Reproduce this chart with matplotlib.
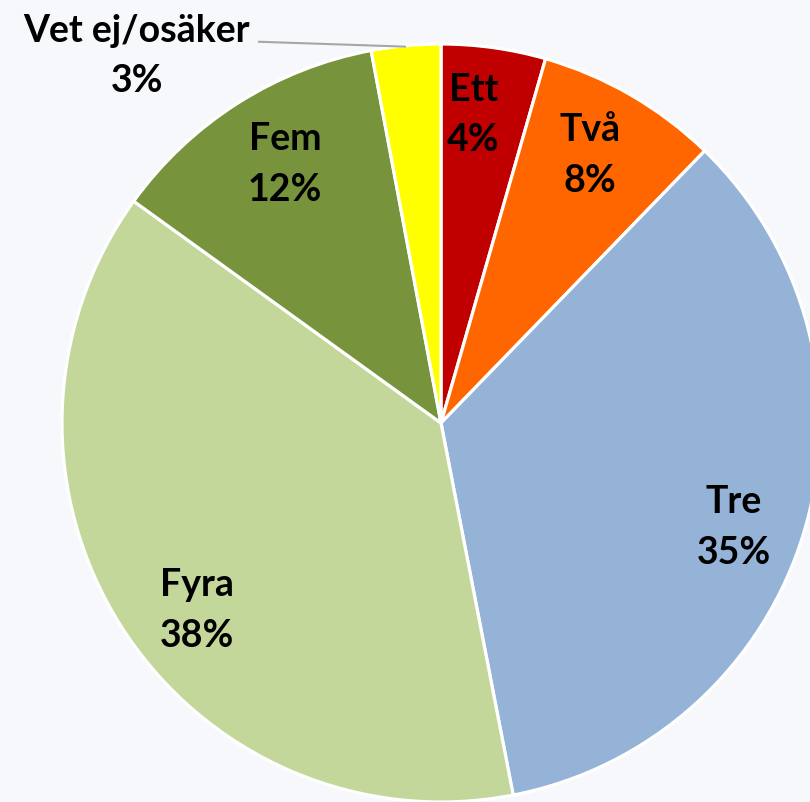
import numpy as np
import matplotlib.pyplot as plt

# data (percent, clockwise from 12 o'clock)
labels = ["Ett", "Två", "Tre", "Fyra", "Fem", "Vet ej/osäker"]
values = [4.45, 7.8, 34.7, 38.0, 12.1, 2.95]
shown = ["4%", "8%", "35%", "38%", "12%", "3%"]
colors = ["#C00000", "#FF6600", "#95B3D7", "#C4D79B", "#77933C", "#FFFF00"]

# label placement: angle clockwise from top (deg), distance from centre (radii)
lab_ang = [6, 29, 109.5, 232.5, 329, 320.4]
lab_dist = [0.82, 0.81, 0.82, 0.81, 0.80, 1.26]

bg = "#F7F8FC"
W, H = 810, 803
cx, cy, R = 441, 424, 379  # pie centre and radius in pixels

fig = plt.figure(figsize=(W / 100, H / 100), dpi=100, facecolor=bg)
ax = fig.add_axes([0, 0, 1, 1])
ax.set_facecolor(bg)

wedges, _ = ax.pie(values, colors=colors, startangle=90, counterclock=False,
                   radius=1, wedgeprops=dict(edgecolor="white", linewidth=2.3))

ax.set_xlim(-cx / R, (W - cx) / R)
ax.set_ylim(-(H - cy) / R, cy / R)
ax.set_aspect("equal")
ax.axis("off")

font = dict(family="Lato", fontweight="bold", fontsize=27, color="black",
            ha="center", va="center", linespacing=1.6)

for i, w in enumerate(wedges):
    a = np.deg2rad(90 - lab_ang[i])
    lx, ly = lab_dist[i] * np.cos(a), lab_dist[i] * np.sin(a)
    ax.text(lx, ly, labels[i] + "\n" + shown[i], **font)
    if lab_dist[i] > 1:
        # leader line from outside label to its slice
        mid = np.deg2rad((w.theta1 + w.theta2) / 2)
        ax.plot([-0.483, np.cos(mid)], [1.006, 0.993],
                color="#A6A6A6", lw=1.5, solid_capstyle="butt")

fig.savefig("out.png", dpi=100, facecolor=bg)
